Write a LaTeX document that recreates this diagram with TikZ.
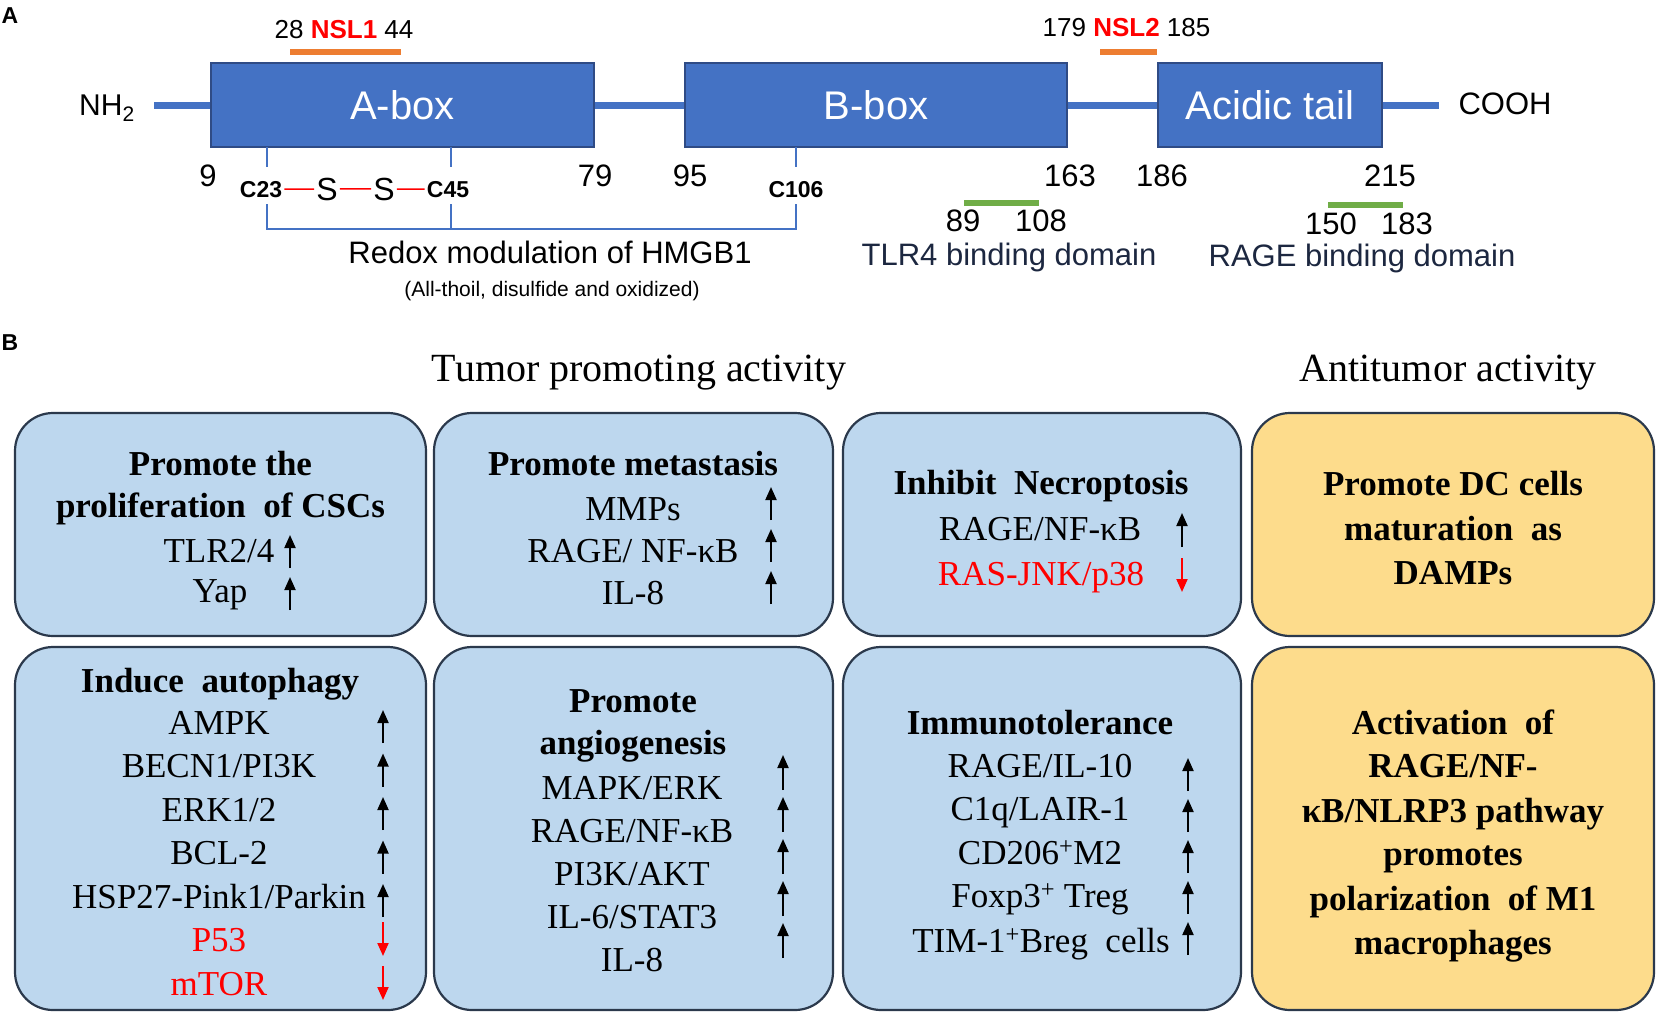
\documentclass[tikz,border=0pt]{standalone}
\usepackage{fontspec}
\setmainfont{Liberation Serif}
\newfontfamily\arialf{Liberation Sans}
\usetikzlibrary{arrows.meta}

\definecolor{domblue}{HTML}{4472C4}
\definecolor{domline}{HTML}{2F4B85}
\definecolor{nslorange}{HTML}{ED7D31}
\definecolor{bindgreen}{HTML}{70AD47}
\definecolor{txtred}{HTML}{FF0000}
\definecolor{navytext}{HTML}{1C2740}
\definecolor{cardblue}{HTML}{BDD7EE}
\definecolor{cardgold}{RGB}{253,220,140}
\definecolor{cardline}{HTML}{2B394C}
\newcommand{\setfs}[1]{\fontsize{#1}{#1}\selectfont}

\begin{document}
\begin{tikzpicture}[x=1pt, y=-1pt,
	dom/.style={draw=domline, fill=domblue, line width=1.5pt, text=white, inner sep=0pt, font=\arialf\setfs{40}},
	lab/.style={anchor=base, inner sep=0pt, font=\arialf\setfs{31}},
	toplab/.style={anchor=base, inner sep=0pt, font=\arialf\setfs{26}},
	cys/.style={anchor=base, inner sep=2pt, font=\arialf\bfseries\setfs{23}},
	sulf/.style={anchor=base, inner sep=2pt, font=\arialf\setfs{32}},
	segbar/.style={line width=6pt},
	cystick/.style={draw=domblue, line width=2pt},
	card/.style={draw=cardline, line width=2.2pt, rounded corners=38pt, fill=cardblue},
	gold/.style={card, fill=cardgold},
	item/.style={anchor=base, inner sep=0pt, font=\setfs{35}},
	head/.style={item, font=\bfseries\setfs{35}},
	upar/.style={-{Triangle[length=13pt,width=11pt]}, line width=2pt},
	dnar/.style={upar, draw=txtred}
]
	\useasboundingbox (0,0) rectangle (1660,1021);

	\node[anchor=base, inner sep=0pt, font=\arialf\bfseries\setfs{23}, name=lblA] at (10,23) {A};
	\node[dom, minimum width=383pt, minimum height=84pt, name=abox] at (402.5,105) {A-box};
	\node[dom, minimum width=382pt, minimum height=84pt, name=bbox] at (876,105) {B-box};
	\node[dom, minimum width=224pt, minimum height=84pt, name=tail] at (1270,105) {Acidic tail};
	\coordinate (nstart) at (154,105);
	\coordinate (cend) at (1439,105);
	\draw[domblue, line width=7pt] (nstart) -- (abox.west) (abox.east) -- (bbox.west) (bbox.east) -- (tail.west) (tail.east) -- (cend);
	\node[lab, anchor=base west, font=\arialf\setfs{30}, name=nh2] at (79,115) {NH\textsubscript{2}};
	\node[lab, name=cooh] at (1505,114) {COOH};

	\draw[segbar, nslorange] (290,52) -- (401,52);
	\node[toplab, name=nsl1] at (344,38.5) {28 \textcolor{txtred}{\bfseries NSL1} 44};
	\draw[segbar, nslorange] (1100,52) -- (1157,52);
	\node[toplab, name=nsl2] at (1126.5,36.5) {179 \textcolor{txtred}{\bfseries NSL2} 185};

	\draw[cystick] (267,147) -- (267,167);
	\draw[cystick] (451,147) -- (451,167);
	\draw[cystick] (796,147) -- (796,167);
	\node[lab, name=n9] at (208,186) {9};
	\node[lab, name=n79] at (595,186) {79};
	\node[lab, name=n95] at (690,186) {95};
	\node[lab, name=n163] at (1070,186) {163};
	\node[lab, name=n186] at (1162,186) {186};
	\node[lab, name=n215] at (1390,186) {215};

	\node[cys, name=c23] at (261,197) {C23};
	\node[sulf, name=s1] at (327,200) {S};
	\node[sulf, name=s2] at (384,200) {S};
	\node[cys, name=c45] at (448,197) {C45};
	\node[cys, name=c106] at (796,197) {C106};
	\draw[txtred, line width=1.5pt] (c23) -- (s1) (s1) -- (s2) (s2) -- (c45);
	\draw[domblue, line width=1.3pt] (267,204) -- (267,229) -- (796,229) -- (796,204) (451,204) -- (451,229);
	\node[lab, name=redox] at (550,263) {Redox modulation of HMGB1};
	\node[anchor=base, inner sep=0pt, font=\arialf\setfs{21}, name=redoxsub] at (552,296) {(All-thoil,~disulfide and oxidized)};

	\draw[segbar, bindgreen] (964,203) -- (1039,203);
	\node[lab, name=t89] at (963,231) {89};
	\node[lab, name=t108] at (1041,231) {108};
	\node[lab, text=navytext, name=tlrdom] at (1009,265) {TLR4 binding domain};
	\draw[segbar, bindgreen] (1328,205) -- (1403,205);
	\node[lab, name=r150] at (1331,234) {150};
	\node[lab, name=r183] at (1407,234) {183};
	\node[lab, text=navytext, name=ragedom] at (1362,266) {RAGE binding domain};

	\node[anchor=base, inner sep=0pt, font=\arialf\bfseries\setfs{23}, name=lblB] at (10,350) {B};
	\node[item, font=\setfs{40}, name=tumhead] at (639,381) {Tumor promoting activity};
	\node[item, font=\setfs{40}, name=antihead] at (1448,381) {Antitumor activity};

	\node[card, minimum width=411pt, minimum height=223pt, name=prolif] at (220.5,524.5) {};
	\node[card, minimum width=399pt, minimum height=223pt, name=metas] at (633.5,524.5) {};
	\node[card, minimum width=398pt, minimum height=223pt, name=necro] at (1042,524.5) {};
	\node[gold, minimum width=402pt, minimum height=223pt, name=dcmat] at (1453,524.5) {};
	\node[card, minimum width=411pt, minimum height=363pt, name=autoph] at (220.5,828.5) {};
	\node[card, minimum width=399pt, minimum height=363pt, name=angio] at (633.5,828.5) {};
	\node[card, minimum width=398pt, minimum height=363pt, name=immtol] at (1042,828.5) {};
	\node[gold, minimum width=402pt, minimum height=363pt, name=mpol] at (1453,828.5) {};

	\node[head, name=pr1] at (220.5,475) {Promote the};
	\node[head, name=pr2] at (220.5,517) {proliferation~~of CSCs};
	\node[item, name=pr3] at (219,562) {TLR2/4};
	\node[item, name=pr4] at (220,602) {Yap};
	\draw[upar] (290,568) -- (290,535);
	\draw[upar] (290,610) -- (290,577);

	\node[head, name=me1] at (633,475) {Promote metastasis};
	\node[item, name=me2] at (633,520) {MMPs};
	\node[item, name=me3] at (633,562) {RAGE/ NF-κB};
	\node[item, name=me4] at (633,604) {IL-8};
	\foreach \y in {487,529,571}
		\draw[upar] (771,\y+33) -- (771,\y);

	\node[head, name=ne1] at (1041,494) {Inhibit~~Necroptosis};
	\node[item, name=ne2] at (1040,540) {RAGE/NF-κB};
	\node[item, text=txtred, name=ne3] at (1041,585) {RAS-JNK/p38};
	\draw[upar] (1182,547) -- (1182,513);
	\draw[dnar] (1182,558) -- (1182,592);

	\node[head, name=dc1] at (1453,495) {Promote DC cells};
	\node[head, name=dc2] at (1453,540) {maturation~~as};
	\node[head, name=dc3] at (1453,584) {DAMPs};

	\node[head, name=au0] at (220,692) {Induce~~autophagy};
	\foreach \t [count=\i] in {AMPK, BECN1/PI3K, ERK1/2, BCL-2, HSP27-Pink1/Parkin}
		\node[item, name=au\i] at (219,{734+43.5*(\i-1)}) {\t};
	\node[item, text=txtred, name=au6] at (219,951.5) {P53};
	\node[item, text=txtred, name=au7] at (219,995) {mTOR};
	\foreach \y in {710,753.5,797,840.5,884}
		\draw[upar] (383,\y+33) -- (383,\y);
	\draw[dnar] (383,922) -- (383,956);
	\draw[dnar] (383,966) -- (383,1000);

	\node[head, name=an1] at (633,712) {Promote};
	\node[head, name=an2] at (633,754) {angiogenesis};
	\foreach \t [count=\i] in {MAPK/ERK, RAGE/NF-κB, PI3K/AKT, IL-6/STAT3, IL-8}
		\node[item, name=an\i x] at (632,{799+43.2*(\i-1)}) {\t};
	\foreach \y in {755,797,839,881,923}
		\draw[upar] (783,\y+35) -- (783,\y);

	\node[head, name=im0] at (1040,734) {Immunotolerance};
	\node[item, name=im1] at (1040,777) {RAGE/IL-10};
	\node[item, name=im2] at (1040,820) {C1q/LAIR-1};
	\node[item, name=im3] at (1040,864) {CD206\textsuperscript{+}M2};
	\node[item, name=im4] at (1040,907) {Foxp3\textsuperscript{+} Treg};
	\node[item, name=im5] at (1041,952) {TIM-1\textsuperscript{+}Breg~~cells};
	\foreach \y in {758,799,840,881,922}
		\draw[upar] (1188,\y+33) -- (1188,\y);

	\node[head, name=mp1] at (1453,734) {Activation~~of};
	\node[head, name=mp2] at (1453,777) {RAGE/NF-};
	\node[head, name=mp3] at (1453,822) {κB/NLRP3 pathway};
	\node[head, name=mp4] at (1453,865) {promotes};
	\node[head, name=mp5] at (1453,910) {polarization~~of M1};
	\node[head, name=mp6] at (1453,954) {macrophages};
\end{tikzpicture}
\end{document}
